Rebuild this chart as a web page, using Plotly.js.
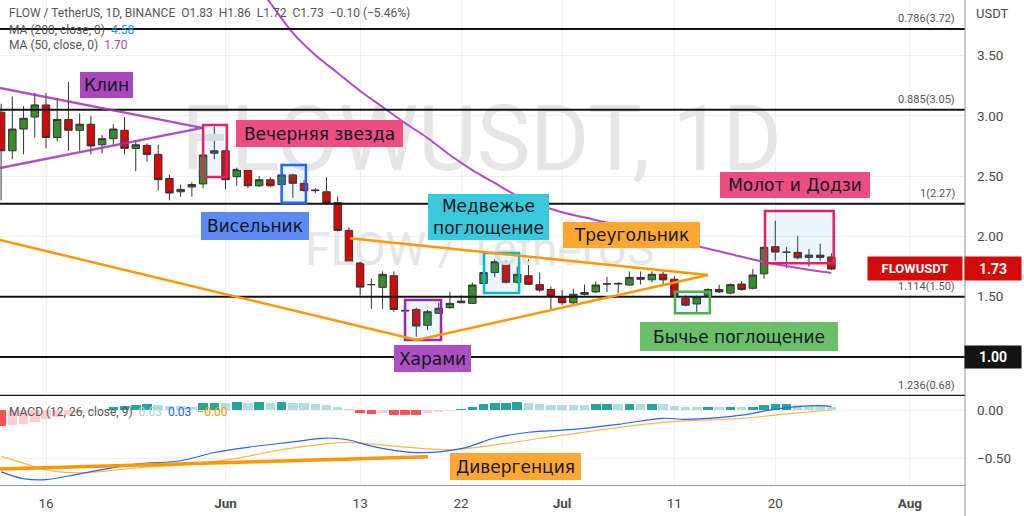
<!DOCTYPE html>
<html><head><meta charset="utf-8">
<script src="https://cdn.plot.ly/plotly-3.0.1.min.js"></script>
<style>html,body{margin:0;padding:0;background:#fff;overflow:hidden}#chart{width:1024px;height:516px}</style>
</head><body><div id="chart"></div>
<script>
// ---------- DATA ----------
const dates = ['2022-05-12','2022-05-13','2022-05-14','2022-05-15','2022-05-16','2022-05-17','2022-05-18','2022-05-19','2022-05-20','2022-05-21','2022-05-22','2022-05-23','2022-05-24','2022-05-25','2022-05-26','2022-05-27','2022-05-28','2022-05-29','2022-05-30','2022-05-31',
'2022-06-01','2022-06-02','2022-06-03','2022-06-04','2022-06-05','2022-06-06','2022-06-07','2022-06-08','2022-06-09','2022-06-10','2022-06-11','2022-06-12','2022-06-13','2022-06-14','2022-06-15','2022-06-16','2022-06-17','2022-06-18','2022-06-19','2022-06-20','2022-06-21','2022-06-22','2022-06-23','2022-06-24','2022-06-25','2022-06-26','2022-06-27','2022-06-28','2022-06-29','2022-06-30',
'2022-07-01','2022-07-02','2022-07-03','2022-07-04','2022-07-05','2022-07-06','2022-07-07','2022-07-08','2022-07-09','2022-07-10','2022-07-11','2022-07-12','2022-07-13','2022-07-14','2022-07-15','2022-07-16','2022-07-17','2022-07-18','2022-07-19','2022-07-20','2022-07-21','2022-07-22','2022-07-23','2022-07-24','2022-07-25'];
const openP = [3.03,2.71,2.89,2.99,3.09,2.82,2.97,2.88,2.93,2.76,2.81,2.88,2.73,2.755,2.68,2.48,2.37,2.41,2.435,2.69,
2.71,2.495,2.55,2.42,2.47,2.43,2.51,2.44,2.385,2.37,2.28,2.05,1.78,1.60,1.578,1.674,1.387,1.395,1.263,1.362,1.41,1.464,1.445,1.61,1.70,1.785,1.62,1.674,1.60,1.56,
1.50,1.45,1.52,1.54,1.605,1.605,1.597,1.66,1.64,1.686,1.645,1.487,1.44,1.51,1.56,1.53,1.605,1.57,1.69,1.915,1.87,1.868,1.826,1.845,1.83];
const highP = [3.10,3.16,3.08,3.19,3.19,3.15,3.28,3.02,3.00,2.84,2.93,2.99,2.79,2.77,2.76,2.51,2.43,2.45,2.68,2.91,
2.72,2.57,2.56,2.50,2.49,2.52,2.52,2.47,2.40,2.49,2.33,2.075,1.79,1.65,1.71,1.71,1.39,1.41,1.39,1.45,1.54,1.51,1.62,1.73,1.81,1.80,1.75,1.81,1.70,1.585,
1.555,1.565,1.60,1.625,1.665,1.62,1.71,1.71,1.71,1.71,1.67,1.51,1.51,1.57,1.60,1.61,1.63,1.73,1.915,2.13,1.91,2.005,1.895,1.94,1.86];
const lowP = [2.30,2.64,2.68,2.82,2.73,2.79,2.71,2.71,2.68,2.69,2.76,2.68,2.54,2.62,2.38,2.30,2.33,2.33,2.40,2.64,
2.39,2.42,2.40,2.41,2.41,2.41,2.32,2.37,2.36,2.26,2.04,1.78,1.51,1.40,1.40,1.375,1.38,1.17,1.224,1.36,1.40,1.45,1.44,1.59,1.665,1.61,1.61,1.60,1.54,1.39,
1.43,1.43,1.51,1.53,1.54,1.53,1.59,1.60,1.62,1.60,1.50,1.42,1.375,1.50,1.53,1.52,1.55,1.56,1.65,1.80,1.74,1.81,1.75,1.80,1.72];
const closeP = [2.71,2.89,2.98,3.09,2.82,2.97,2.88,2.93,2.75,2.81,2.89,2.73,2.76,2.68,2.47,2.36,2.39,2.43,2.675,2.71,
2.47,2.556,2.42,2.47,2.42,2.51,2.44,2.38,2.38,2.28,2.05,1.785,1.58,1.601,1.686,1.395,1.383,1.257,1.376,1.404,1.445,1.45,1.597,1.70,1.79,1.62,1.686,1.603,1.555,1.506,
1.45,1.52,1.535,1.597,1.607,1.61,1.66,1.645,1.686,1.64,1.51,1.43,1.50,1.56,1.54,1.60,1.56,1.68,1.91,1.87,1.868,1.823,1.845,1.826,1.73];

const ma50Dates = ['2022-06-03','2022-06-05','2022-06-07','2022-06-09','2022-06-11','2022-06-13','2022-06-15','2022-06-17','2022-06-19','2022-06-21','2022-06-23','2022-06-25','2022-06-27','2022-06-29','2022-07-01','2022-07-04','2022-07-07','2022-07-10','2022-07-13','2022-07-16','2022-07-19','2022-07-22','2022-07-25'];
const ma50 = [4.19,3.935,3.687,3.504,3.355,3.206,3.073,2.94,2.816,2.675,2.55,2.443,2.335,2.26,2.20,2.136,2.07,1.987,1.92,1.854,1.788,1.738,1.697];

const macdHist = [-0.17,-0.155,-0.145,-0.128,-0.097,-0.07,-0.05,-0.03,-0.015,-0.005,0.028,0.04,0.05,0.062,0.052,0.045,0.038,0.036,0.069,0.076,
0.074,0.086,0.076,0.078,0.076,0.078,0.071,0.068,0.062,0.052,0.035,0.012,-0.035,-0.038,-0.036,-0.05,-0.051,-0.052,-0.035,-0.024,-0.01,0.01,0.035,0.062,0.074,0.076,0.078,0.076,0.062,0.054,
0.053,0.052,0.051,0.062,0.063,0.061,0.063,0.061,0.063,0.061,0.041,0.035,0.028,0.035,0.034,0.036,0.028,0.035,0.052,0.062,0.063,0.052,0.041,0.040,0.03];
const macdDates = ['2022-05-12','2022-05-14','2022-05-16','2022-05-19','2022-05-24','2022-05-28','2022-05-31','2022-06-03','2022-06-07','2022-06-10','2022-06-12','2022-06-14','2022-06-18','2022-06-22','2022-06-25','2022-06-28','2022-07-02','2022-07-06','2022-07-10','2022-07-12','2022-07-17','2022-07-20','2022-07-22','2022-07-24','2022-07-25'];
const macdLine = [-0.64,-0.71,-0.72,-0.66,-0.56,-0.525,-0.44,-0.386,-0.33,-0.29,-0.31,-0.373,-0.44,-0.40,-0.29,-0.23,-0.20,-0.148,-0.086,-0.096,-0.052,0.01,0.035,0.045,0.035];
const signalDates = ['2022-05-12','2022-05-14','2022-05-16','2022-05-19','2022-05-24','2022-05-29','2022-06-02','2022-06-06','2022-06-10','2022-06-12','2022-06-16','2022-06-21','2022-06-26','2022-07-01','2022-07-10','2022-07-17','2022-07-21','2022-07-25'];
const signalLine = [-0.48,-0.55,-0.62,-0.65,-0.60,-0.56,-0.50,-0.41,-0.35,-0.335,-0.373,-0.41,-0.345,-0.26,-0.128,-0.086,-0.041,0.0];

const fibLevels = [3.72, 3.05, 2.27, 1.50, 1.00, 0.68];
const fibLabels = ['0.786(3.72)', '0.885(3.05)', '1(2.27)', '1.114(1.50)', '', '1.236(0.68)'];

const priceTicks = [1.5, 2, 2.5, 3, 3.5];
const priceTickText = ['1.50', '2.00', '2.50', '3.00', '3.50'];
const macdTicks = [0, -0.5];
const macdTickText = ['0.00', '\u22120.50'];
const dateTicks = ['2022-05-16','2022-06-01','2022-06-13','2022-06-22','2022-07-01','2022-07-11','2022-07-20','2022-08-01'];
const dateTickText = ['16','<b>Jun</b>','13','22','<b>Jul</b>','11','20','<b>Aug</b>'];

// drawings (date, price) anchors
const wedgeUpperX = ['2022-05-11 21:36', '2022-05-29 21:50'];
const wedgeUpperY = [3.23, 2.90];
const wedgeLowerX = ['2022-05-11 21:36', '2022-05-29 21:50'];
const wedgeLowerY = [2.567, 2.90];
const triLongX = ['2022-05-11 21:36', '2022-06-18 01:40', '2022-07-14 00:00'];
const triLongY = [1.97, 1.141, 1.68];
const triUpperX = ['2022-06-12 02:30', '2022-07-14 00:00'];
const triUpperY = [1.984, 1.68];
const divergenceX = ['2022-05-11 21:36', '2022-06-19 01:00'];
const divergenceY = [-0.611, -0.483];

const patternNames = ['Вечерняя звезда', 'Висельник', 'Медвежье<br>поглощение', 'Харами', 'Бычье поглощение', 'Молот и Додзи'];
const patternX0 = ['2022-05-30 00:00', '2022-06-06 00:00', '2022-06-24 01:00', '2022-06-17 00:00', '2022-07-11 01:30', '2022-07-19 02:00'];
const patternX1 = ['2022-06-01 03:00', '2022-06-08 04:00', '2022-06-27 04:00', '2022-06-20 05:00', '2022-07-14 04:00', '2022-07-25 05:00'];
const patternLow = [2.493, 2.279, 1.531, 1.141, 1.362, 1.777];
const patternHigh = [2.924, 2.592, 1.862, 1.473, 1.541, 2.21];

const lastPrice = '1.73';
const lastLevelTag = '1.00';

// ---------- LAYOUT HELPERS ----------
const PW = 965, PH = 485;
const px = v => v / PW;
const py = v => 1 - v / PH;

const GREEN = '#3a8a2e', RED = '#d10a0a';
const histColors = macdHist.map((v, i) => {
  const prev = i > 0 ? macdHist[i - 1] : null;
  if (v >= 0) return (prev === null || v >= prev) ? '#26a69a' : '#b2dfdb';
  return (prev === null || v < prev) ? '#ff5252' : '#ffcdd2';
});

const traces = [
  { type: 'scatter', mode: 'text', x: ['2022-06-23 19:40'], y: [2.74], text: ['FLOWUSDT, 1D'],
    textfont: { family: 'Liberation Sans Narrow, Roboto, sans-serif', size: 90, color: '#e6e6e6' },
    textposition: 'middle center', hoverinfo: 'skip', xaxis: 'x', yaxis: 'y' },
  { type: 'scatter', mode: 'text', x: ['2022-06-23 16:00'], y: [1.86], text: ['FLOW / TetherUS'],
    textfont: { family: 'Roboto, sans-serif', size: 46, color: '#e6e6e6' },
    textposition: 'middle center', hoverinfo: 'skip', xaxis: 'x', yaxis: 'y' },
  { type: 'candlestick', x: dates, open: openP, high: highP, low: lowP, close: closeP,
    increasing: { line: { color: '#333', width: 1 }, fillcolor: GREEN },
    decreasing: { line: { color: '#333', width: 1 }, fillcolor: RED },
    whiskerwidth: 0, xaxis: 'x', yaxis: 'y', hoverinfo: 'skip' },
  { type: 'scatter', mode: 'lines', x: ma50Dates, y: ma50, line: { color: '#b04cc8', width: 2, shape: 'spline', smoothing: 1 },
    xaxis: 'x', yaxis: 'y', hoverinfo: 'skip' },
  { type: 'bar', x: dates, y: macdHist, marker: { color: histColors, line: { width: 0 } },
    width: 0.85 * 86400000, xaxis: 'x2', yaxis: 'y2', hoverinfo: 'skip' },
  { type: 'scatter', mode: 'lines', x: signalDates, y: signalLine, line: { color: '#ffb74d', width: 1.2, shape: 'spline', smoothing: 1 },
    xaxis: 'x2', yaxis: 'y2', hoverinfo: 'skip' },
  { type: 'scatter', mode: 'lines', x: macdDates, y: macdLine, line: { color: '#2962ff', width: 1.2, shape: 'spline', smoothing: 1 },
    xaxis: 'x2', yaxis: 'y2', hoverinfo: 'skip' }
];

const shapes = [];
fibLevels.forEach(l => shapes.push({ type: 'line', xref: 'paper', yref: 'y', x0: 0, x1: 1, y0: l, y1: l,
  line: { color: '#131313', width: 2 }, layer: 'above' }));
const boxColors = ['#e91e63', '#2962ff', '#00bcd4', '#9c27b0', '#4caf50', '#e91e63'];
patternNames.forEach((n, i) => shapes.push({ type: 'rect', xref: 'x', yref: 'y', x0: patternX0[i], x1: patternX1[i],
  y0: patternLow[i], y1: patternHigh[i], line: { color: boxColors[i], width: 2.5 }, fillcolor: 'rgba(33,150,243,0.09)', layer: 'above' }));
function polyline(xs, ys, color, width, xref, yref) {
  for (let i = 0; i < xs.length - 1; i++) shapes.push({ type: 'line', xref, yref, x0: xs[i], x1: xs[i + 1], y0: ys[i], y1: ys[i + 1],
    line: { color, width }, layer: 'above' });
}
polyline(wedgeUpperX, wedgeUpperY, 'rgba(160,50,185,0.85)', 2.5, 'x', 'y');
polyline(wedgeLowerX, wedgeLowerY, 'rgba(160,50,185,0.85)', 2.5, 'x', 'y');
polyline(triLongX, triLongY, '#ff9800', 2.5, 'x', 'y');
polyline(triUpperX, triUpperY, '#ff9800', 2.5, 'x', 'y');
polyline(divergenceX, divergenceY, '#ff9800', 3.5, 'x2', 'y2');
// right axis full-height line
shapes.push({ type: 'line', xref: 'paper', yref: 'paper', x0: 1, x1: 1, y0: -31 / PH, y1: 1, line: { color: '#9598a1', width: 1 } });

const ann = [];
const LBL_FONT = { family: 'DejaVu Sans, sans-serif', size: 17, color: '#131722' };
function label(text, x0, x1, y0, y1, bg) {
  ann.push({ xref: 'paper', yref: 'paper', x: px((x0 + x1) / 2), y: py((y0 + y1) / 2), xanchor: 'center', yanchor: 'middle',
    text, showarrow: false, width: x1 - x0, height: y1 - y0, bgcolor: bg, borderpad: 0, borderwidth: 0, font: LBL_FONT, align: 'center', valign: 'middle' });
}
label('Клин', 80, 133, 72, 98, '#ab47bc');
label(patternNames[0], 236, 403, 120, 147, '#ee4d84');
label(patternNames[1], 201, 309, 212, 240, '#5b8af5');
label(patternNames[2], 428, 549, 194, 240, '#3ac8dc');
label('Треугольник', 563, 700, 222, 248, '#ffa733');
label(patternNames[3], 394, 471, 345, 372, '#ab4fc3');
label(patternNames[4], 640, 838, 322, 351, '#6abf69');
label(patternNames[5], 720, 870, 172, 198, '#ee4d84');
label('Дивергенция', 450, 581, 453, 480, '#ffa733');

fibLevels.forEach((l, i) => { if (fibLabels[i]) ann.push({ xref: 'paper', yref: 'y', x: px(957), y: l, xanchor: 'right', yanchor: 'bottom', yshift: 2,
  text: fibLabels[i], showarrow: false, font: { family: 'Roboto, sans-serif', size: 11, color: '#555' } }); });

const LEG = { family: 'Roboto, sans-serif', size: 12, color: '#555' };
const sp = '\u00a0\u00a0';
ann.push({ xref: 'paper', yref: 'paper', x: px(7), y: py(13), xanchor: 'left', yanchor: 'middle', showarrow: false, font: LEG,
  text: 'FLOW / TetherUS, 1D, BINANCE' + sp + 'O' + openP[openP.length - 1] + sp + 'H' + highP[highP.length - 1] + sp + 'L' + lowP[lowP.length - 1] + sp + 'C' + closeP[closeP.length - 1] + sp + '\u22120.10 (\u22125.46%)' });
ann.push({ xref: 'paper', yref: 'paper', x: px(7), y: py(30), xanchor: 'left', yanchor: 'middle', showarrow: false, font: LEG,
  text: 'MA (200, close, 0)' + sp + '<span style="color:#2196f3">4.58</span>' });
ann.push({ xref: 'paper', yref: 'paper', x: px(7), y: py(45), xanchor: 'left', yanchor: 'middle', showarrow: false, font: LEG,
  text: 'MA (50, close, 0)' + sp + '<span style="color:#ab47bc">' + ma50[ma50.length - 1].toFixed(2) + '</span>' });
ann.push({ xref: 'paper', yref: 'paper', x: px(7), y: py(412), xanchor: 'left', yanchor: 'middle', showarrow: false, font: LEG,
  text: 'MACD (12, 26, close, 9)' + sp + '<span style="color:#a5d6cf">0.03</span>' + sp + '<span style="color:#2962ff">0.03</span>' + sp + '<span style="color:#ff9800">\u22120.00</span>' });
ann.push({ xref: 'paper', yref: 'paper', x: px(992), y: py(13), xanchor: 'center', yanchor: 'middle', showarrow: false,
  text: 'USDT', font: { family: 'Roboto, sans-serif', size: 13, color: '#4a4a4a' } });
// price tags
ann.push({ xref: 'paper', yref: 'y', x: px(915), y: 1.73, xanchor: 'center', yanchor: 'middle', showarrow: false, width: 94, height: 23, bgcolor: RED,
  text: '<b>FLOWUSDT</b>', font: { family: 'Roboto, sans-serif', size: 13, color: '#fff' }, borderpad: 0 });
ann.push({ xref: 'paper', yref: 'y', x: px(993), y: 1.73, xanchor: 'center', yanchor: 'middle', showarrow: false, width: 56, height: 23, bgcolor: RED,
  text: '<b>' + lastPrice + '</b>', font: { family: 'Roboto, sans-serif', size: 14, color: '#fff' }, borderpad: 0 });
ann.push({ xref: 'paper', yref: 'y', x: px(993), y: 1.00, xanchor: 'center', yanchor: 'middle', showarrow: false, width: 56, height: 22, bgcolor: '#131313',
  text: '<b>' + lastLevelTag + '</b>', font: { family: 'Roboto, sans-serif', size: 14, color: '#fff' }, borderpad: 0 });

const GRID = '#eef0f3';
const AXF = { family: 'Roboto, sans-serif', size: 13.5, color: '#4a4a4a' };
const xr = ['2022-05-11 21:36', '2022-08-05 21:50'];
const layout = {
  width: 1024, height: 516, margin: { l: 0, r: 59, t: 0, b: 31, pad: 0 },
  paper_bgcolor: '#fff', plot_bgcolor: '#fff', showlegend: false, boxgap: 0.05, boxgroupgap: 0.3, bargap: 0,
  xaxis: { domain: [0, 1], anchor: 'y', range: xr, type: 'date', tickvals: dateTicks, showticklabels: false, ticks: '',
    showgrid: true, gridcolor: GRID, zeroline: false, showline: false, rangeslider: { visible: false }, fixedrange: true },
  xaxis2: { domain: [0, 1], anchor: 'y2', range: xr, type: 'date', matches: 'x', tickvals: dateTicks, ticktext: dateTickText, ticks: '',
    tickfont: AXF, ticklabelstandoff: 6, showgrid: true, gridcolor: GRID, zeroline: false, showline: true, linecolor: '#9598a1', linewidth: 1, rangeslider: { visible: false } },
  yaxis: { domain: [89 / PH, 1], anchor: 'x', side: 'right', range: [0.677, 3.96], tickvals: priceTicks, ticktext: priceTickText, ticks: '',
    tickfont: AXF, ticklabelstandoff: 11, showgrid: true, gridcolor: GRID, zeroline: false, showline: false },
  yaxis2: { domain: [0, 88 / PH], anchor: 'x2', side: 'right', range: [-0.776, 0.1346], tickvals: macdTicks, ticktext: macdTickText, ticks: '',
    tickfont: AXF, ticklabelstandoff: 11, showgrid: true, gridcolor: GRID, zeroline: false, showline: false },
  shapes, annotations: ann
};
Plotly.newPlot('chart', traces, layout, { staticPlot: true, displayModeBar: false });
</script></body></html>
